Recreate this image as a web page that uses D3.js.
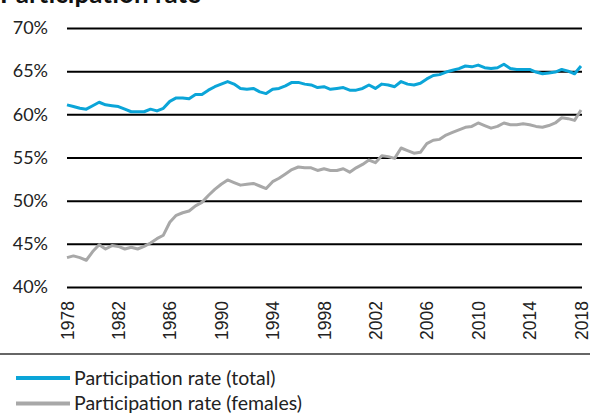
<!DOCTYPE html>
<html>
<head>
<meta charset="utf-8">
<script src="https://cdn.jsdelivr.net/npm/d3@7"></script>
<style>
body{margin:0;background:#fff}
svg{display:block}
</style>
</head>
<body>
<svg></svg>
<script>
var screen = {width:590,height:413}
var margins = {top:28,right:8,left:67,bottom:126}

// half-yearly observations, 1978 to 2018
var years = []
for (var i = 0; i <= 80; i++) { years.push(1978 + i/2) }

var totalRate = [
61.1,60.9,60.7,60.6,61.0,61.4,61.1,61.0,60.9,60.6,
60.3,60.3,60.3,60.6,60.4,60.7,61.5,61.9,61.9,61.8,
62.3,62.3,62.8,63.2,63.5,63.8,63.5,63.0,62.9,63.0,
62.6,62.4,62.9,63.0,63.3,63.7,63.7,63.5,63.4,63.1,
63.2,62.9,63.0,63.1,62.8,62.8,63.0,63.4,63.0,63.5,
63.4,63.2,63.8,63.5,63.4,63.6,64.1,64.5,64.6,64.9,
65.1,65.3,65.6,65.5,65.7,65.4,65.3,65.4,65.8,65.3,
65.2,65.2,65.2,64.9,64.7,64.8,64.9,65.2,65.0,64.7,
65.6]

var femaleRate = [
43.4,43.6,43.4,43.1,44.1,44.9,44.4,44.8,44.7,44.4,
44.6,44.4,44.7,45.1,45.6,46.0,47.5,48.3,48.6,48.8,
49.4,49.8,50.6,51.3,51.9,52.4,52.1,51.8,51.9,52.0,
51.7,51.4,52.2,52.6,53.1,53.6,53.9,53.8,53.8,53.5,
53.7,53.5,53.5,53.7,53.3,53.8,54.2,54.7,54.4,55.2,
55.1,54.9,56.1,55.8,55.5,55.6,56.6,57.0,57.1,57.6,
57.9,58.2,58.5,58.6,59.0,58.7,58.4,58.6,59.0,58.8,
58.8,58.9,58.8,58.6,58.5,58.7,59.0,59.6,59.5,59.3,
60.5]

var yearTicks = [1978,1982,1986,1990,1994,1998,2002,2006,2010,2014,2018]
var rateTicks = [40,45,50,55,60,65,70]

var series = [
    {name:"Participation rate (total)", values:totalRate, color:"#0ba5d8"},
    {name:"Participation rate (females)", values:femaleRate, color:"#a8a8a8"}
]

var width = screen.width - margins.left - margins.right
var height = screen.height - margins.top - margins.bottom

var svg = d3.select("svg")
    .attr("width",screen.width)
    .attr("height",screen.height)

// title sits mostly above the visible area, as in the source image
svg.append("text")
   .attr("x",0)
   .attr("y",3)
   .attr("font-family","Lato")
   .attr("font-weight","bold")
   .attr("font-size",26)
   .attr("fill","#111")
   .text("Participation rate")

var xScale = d3.scaleLinear()
    .domain([1978,2018])
    .range([0,514])
var yScale = d3.scaleLinear()
    .domain([40,70])
    .range([height,0])

var graph = svg.append("g")
    .attr("transform","translate("+margins.left+","+margins.top+")")

var yAxis = d3.axisLeft(yScale)
    .tickValues(rateTicks)
    .tickSize(-width)
    .tickPadding(19)
    .tickFormat(function(d){return d+"%"})

graph.append("g")
    .attr("id","yAxis")
    .call(yAxis)
    .call(function(g){g.select(".domain").remove()})
    .call(function(g){
        g.selectAll("line").attr("stroke","#000").attr("stroke-width",2)
        g.selectAll("text")
         .attr("font-family","Lato")
         .attr("font-size",18)
         .attr("fill","#222")
    })

var xAxis = d3.axisBottom(xScale)
    .tickValues(yearTicks)
    .tickSize(0)
    .tickFormat(d3.format("d"))

graph.append("g")
    .attr("id","xAxis")
    .attr("transform","translate(0,"+height+")")
    .call(xAxis)
    .call(function(g){g.select(".domain").remove()})
    .call(function(g){
        g.selectAll("text")
         .attr("font-family","Liberation Sans")
         .attr("font-size",17.5)
         .attr("fill","#222")
         .attr("transform","rotate(-90)")
         .attr("text-anchor","end")
         .attr("x",-14)
         .attr("y",0)
         .attr("dy","0.35em")
    })

var line = d3.line()
    .x(function(d,i){return xScale(years[i])})
    .y(function(d){return yScale(d)})

graph.selectAll("path.series")
    .data(series.slice().reverse())
    .enter()
    .append("path")
    .attr("class","series")
    .attr("fill","none")
    .attr("stroke",function(s){return s.color})
    .attr("stroke-width",3)
    .attr("stroke-linejoin","round")
    .attr("d",function(s){return line(s.values)})

svg.append("line")
   .attr("x1",0).attr("x2",screen.width)
   .attr("y1",354).attr("y2",354)
   .attr("stroke","#333")
   .attr("stroke-width",1.5)

var legend = svg.selectAll("g.legend")
    .data(series)
    .enter()
    .append("g")
    .attr("class","legend")
    .attr("transform",function(s,i){return "translate(16,"+(378+i*25.5)+")"})

legend.append("line")
    .attr("x1",0).attr("x2",54)
    .attr("stroke",function(s){return s.color})
    .attr("stroke-width",4)

legend.append("text")
    .attr("x",58)
    .attr("dy","0.35em")
    .attr("font-family","Lato")
    .attr("font-size",19.5)
    .attr("fill","#222")
    .text(function(s){return s.name})
</script>
</body>
</html>
